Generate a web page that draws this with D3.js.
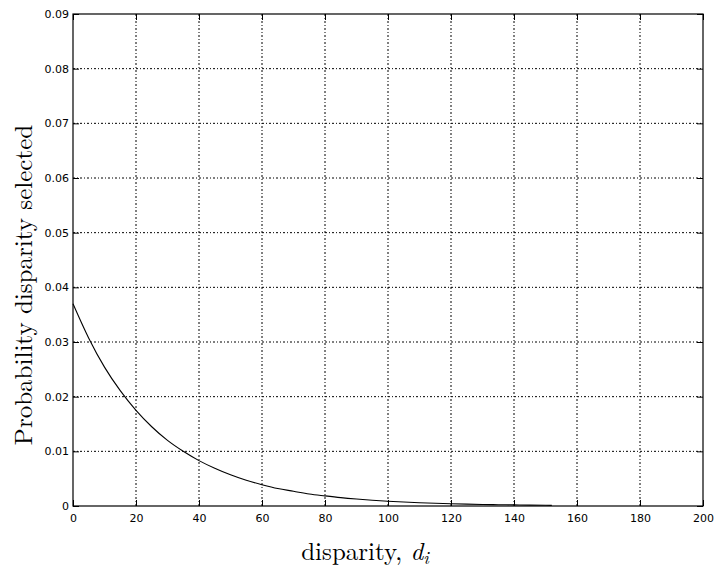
<!DOCTYPE html>
<html>
<head>
<meta charset="utf-8">
<script src="https://cdn.jsdelivr.net/npm/d3@7"></script>
<style>
  body { margin: 0; background: #fff; }
  .tick text { font-family: "DejaVu Sans", Arial, sans-serif; font-size: 11px; fill: #000; }
</style>
</head>
<body>
<svg id="chart" width="715" height="579"></svg>
<script>
// disparity values and selection probability
const disparity = [0, 5, 10, 15, 20, 25, 30, 35, 40, 45, 50, 55, 60, 65, 70, 75, 80, 85,
  90, 95, 100, 105, 110, 115, 120, 125, 130, 135, 140, 145, 150, 152];
const probability = [0.0370, 0.0307, 0.0254, 0.0211, 0.0175, 0.0145, 0.0120, 0.0100, 0.0083,
  0.0069, 0.0057, 0.0047, 0.0039, 0.0032, 0.0027, 0.0022, 0.00185, 0.00153, 0.00127, 0.00105,
  0.00087, 0.00072, 0.0006, 0.0005, 0.00041, 0.00034, 0.00028, 0.00024, 0.0002, 0.00016,
  0.00013, 0.00012];
const xTicks = [0, 20, 40, 60, 80, 100, 120, 140, 160, 180, 200];
const yTicks = [0, 0.01, 0.02, 0.03, 0.04, 0.05, 0.06, 0.07, 0.08, 0.09];
const yTickLabels = ["0", "0.01", "0.02", "0.03", "0.04", "0.05", "0.06", "0.07", "0.08", "0.09"];

const svg = d3.select("#chart");
const margin = { top: 14, right: 12, bottom: 73, left: 73 };
const W = 715, H = 579;
const w = W - margin.left - margin.right, h = H - margin.top - margin.bottom;

const x = d3.scaleLinear().domain([0, 200]).range([0, w]);
const y = d3.scaleLinear().domain([0, 0.09]).range([h, 0]);

const g = svg.append("g").attr("transform", `translate(${margin.left},${margin.top})`);

// grid
g.append("g")
  .selectAll("line")
  .data(xTicks.slice(1, -1))
  .join("line")
  .attr("x1", d => x(d)).attr("x2", d => x(d))
  .attr("y1", 0).attr("y2", h)
  .attr("stroke", "#000").attr("stroke-width", 1)
  .attr("stroke-dasharray", "2,2,1,2");
g.append("g")
  .selectAll("line")
  .data(yTicks.slice(1, -1))
  .join("line")
  .attr("x1", 0).attr("x2", w)
  .attr("y1", d => y(d)).attr("y2", d => y(d))
  .attr("stroke", "#000").attr("stroke-width", 1)
  .attr("stroke-dasharray", "2,2,1,2");

// axes, ticks inside
const tl = 6;
g.append("g").attr("transform", `translate(0,${h})`)
  .call(d3.axisBottom(x).tickValues(xTicks).tickSizeInner(-tl).tickSizeOuter(0).tickPadding(8))
  .call(a => a.select(".domain").remove());
g.append("g")
  .call(d3.axisLeft(y).tickValues(yTicks).tickFormat((d, i) => yTickLabels[i]).tickSizeInner(-tl).tickSizeOuter(0).tickPadding(4))
  .call(a => a.select(".domain").remove());
g.append("g")
  .call(d3.axisTop(x).tickValues(xTicks).tickSizeInner(-tl).tickSizeOuter(0).tickFormat(""))
  .call(a => a.select(".domain").remove());
g.append("g").attr("transform", `translate(${w},0)`)
  .call(d3.axisRight(y).tickValues(yTicks).tickSizeInner(-tl).tickSizeOuter(0).tickFormat(""))
  .call(a => a.select(".domain").remove());

g.append("rect")
  .attr("width", w).attr("height", h)
  .attr("fill", "none").attr("stroke", "#000").attr("stroke-width", 1.2);

// curve
const pts = disparity.map((d, i) => [d, probability[i]]);
g.append("path")
  .datum(pts)
  .attr("fill", "none")
  .attr("stroke", "#000")
  .attr("stroke-width", 1.1)
  .attr("d", d3.line().x(d => x(d[0])).y(d => y(d[1])).curve(d3.curveMonotoneX));

// labels
const xl = svg.append("text")
  .attr("x", 365).attr("y", 560)
  .attr("text-anchor", "middle")
  .attr("font-family", "'Latin Modern Roman', 'DejaVu Serif', serif")
  .attr("font-size", 25);
xl.append("tspan").text("disparity, ");
xl.append("tspan").attr("font-style", "italic").text("d");
xl.append("tspan").attr("font-style", "italic").attr("font-size", 18).attr("dy", 4).text("i");

svg.append("text")
  .attr("transform", `translate(32,285) rotate(-90)`)
  .attr("text-anchor", "middle")
  .attr("font-family", "'Latin Modern Roman', 'DejaVu Serif', serif")
  .attr("font-size", 25)
  .text("Probability disparity selected");
</script>
</body>
</html>
